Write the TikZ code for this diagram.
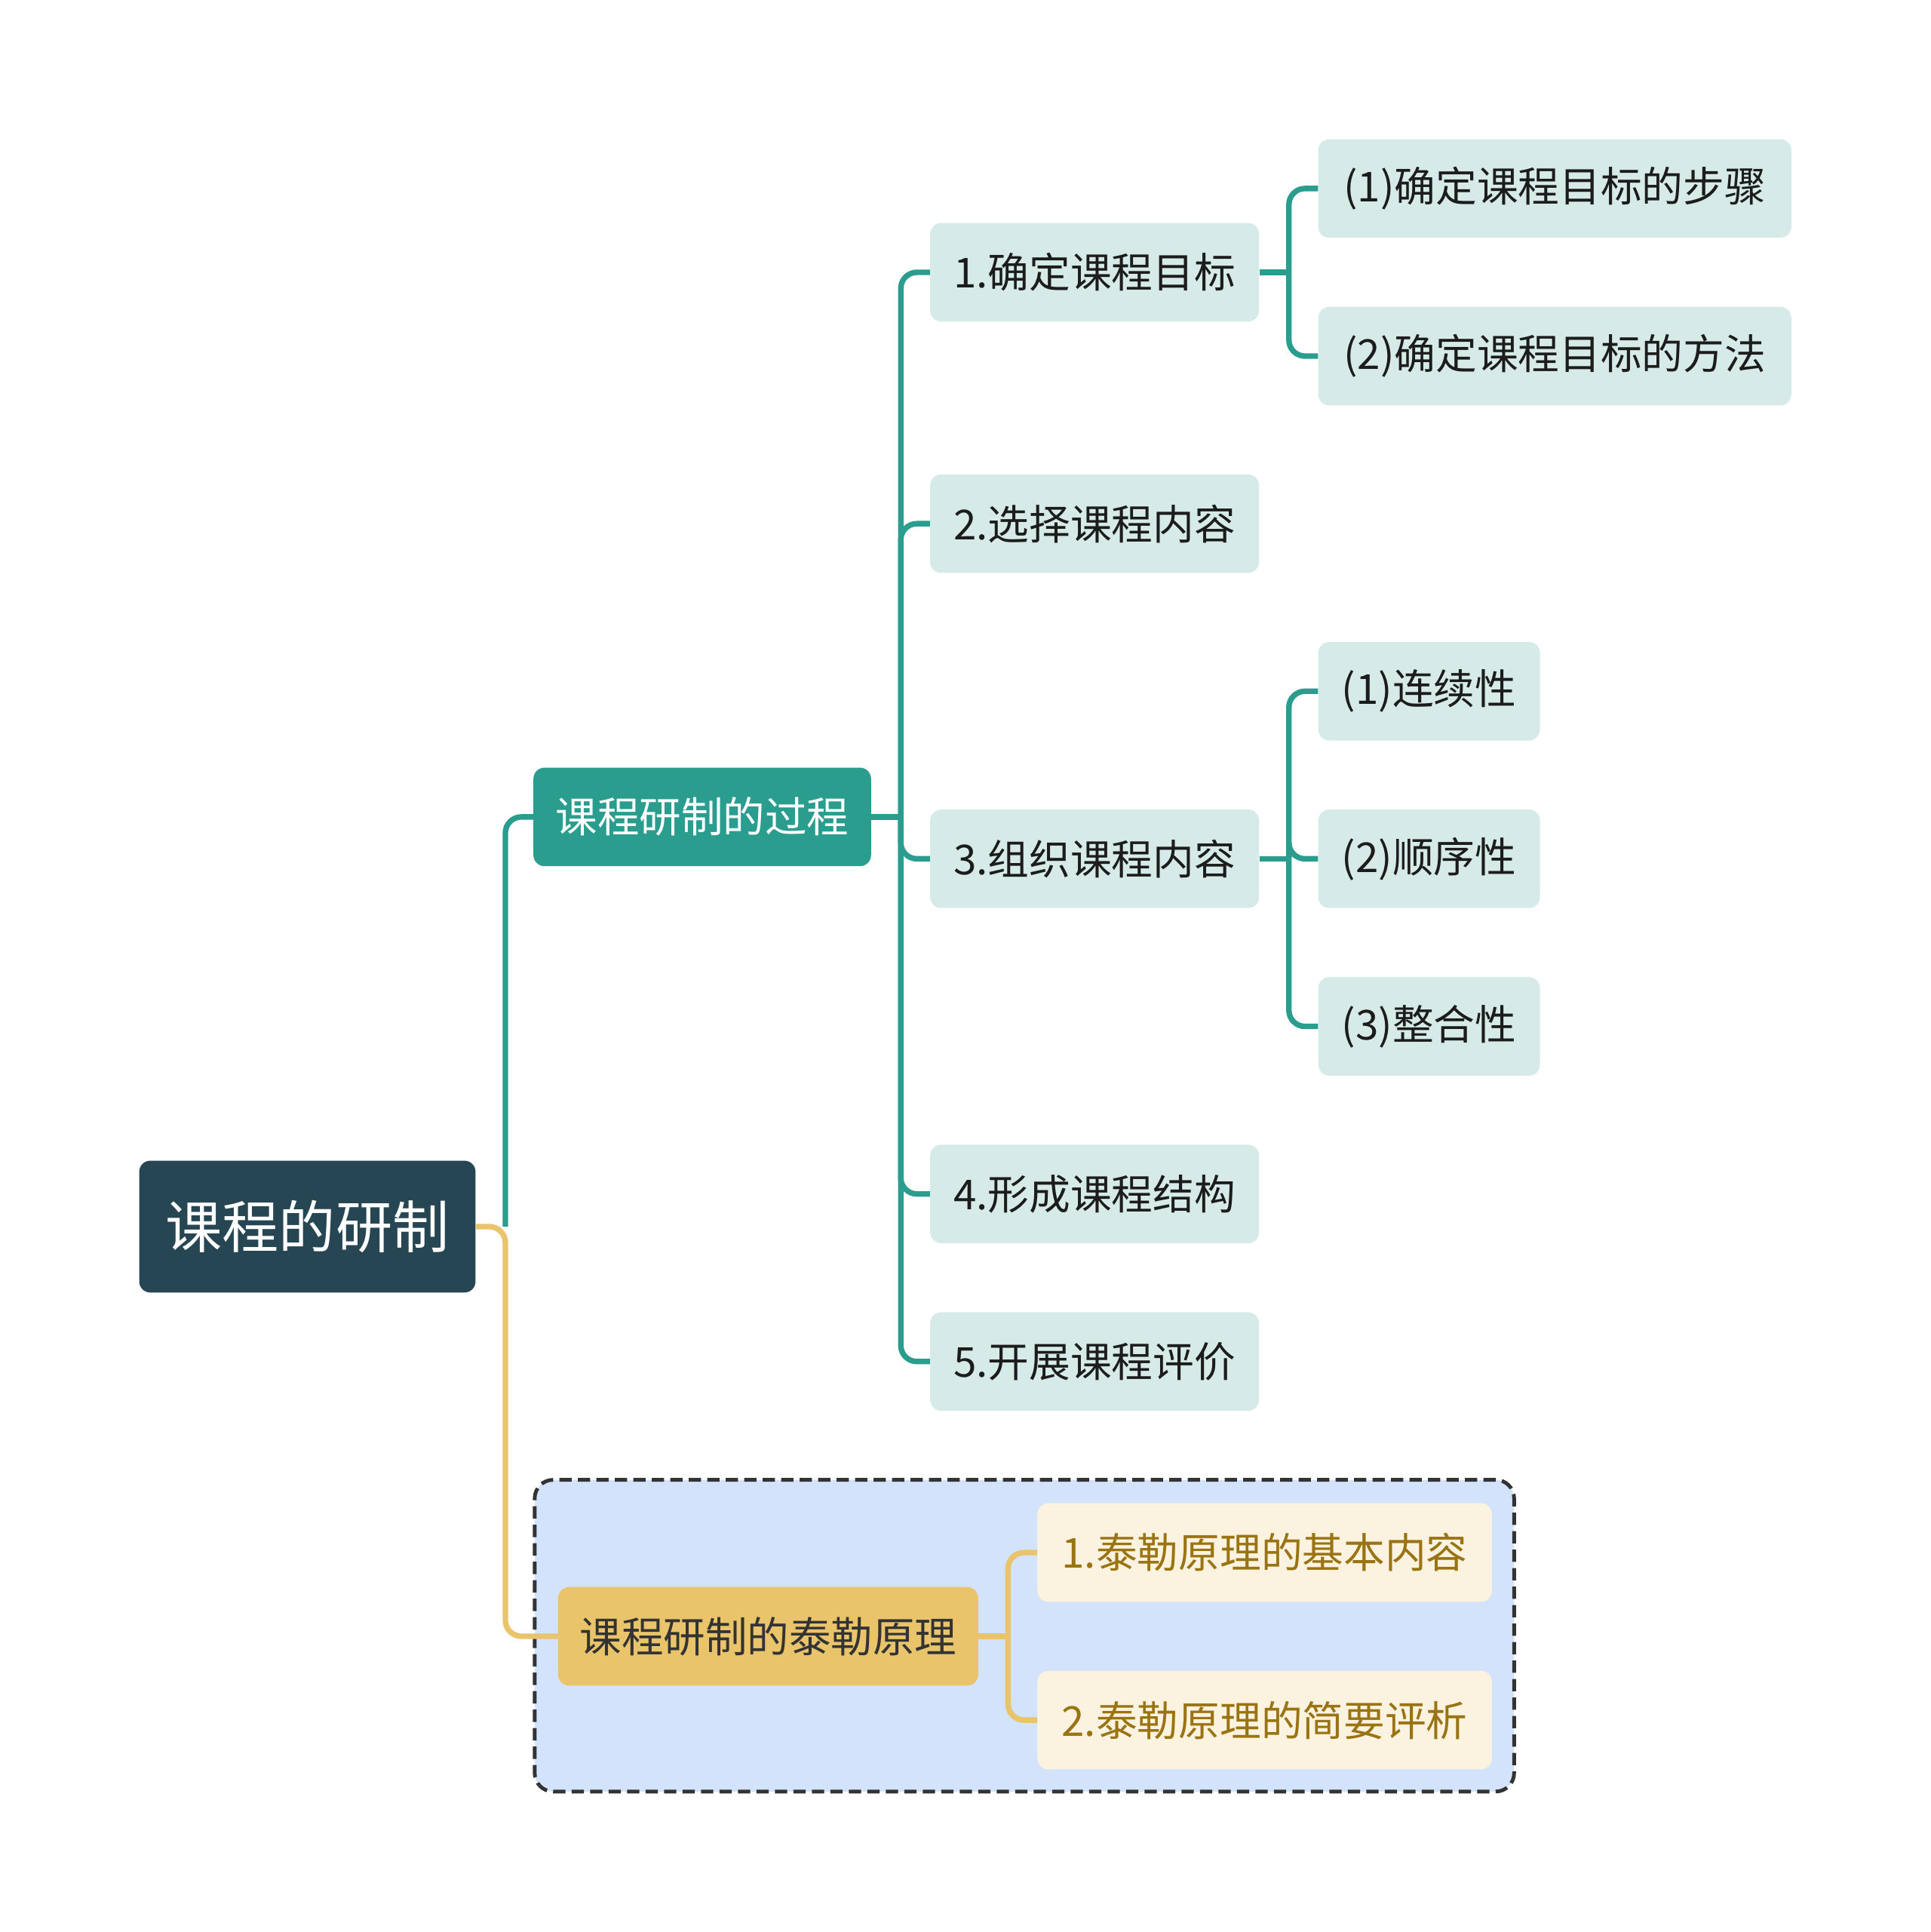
\documentclass[tikz,border=0pt]{standalone}
\usepackage{fontspec}
\setmainfont{Noto Sans CJK SC}
\usepackage{tikz}
\usetikzlibrary{positioning,backgrounds}
\definecolor{rootcol}{HTML}{264653}
\definecolor{tealcol}{HTML}{2A9D8F}
\definecolor{lightteal}{HTML}{D6EBE8}
\definecolor{goldcol}{HTML}{E9C46A}
\definecolor{creamcol}{HTML}{FBF3E0}
\definecolor{goldtext}{HTML}{9A7312}
\definecolor{boxcol}{HTML}{D4E3FC}
\definecolor{darktext}{HTML}{1C1C1C}

\begin{document}
\begin{tikzpicture}[x=1pt, y=-1pt,
    % --- node styles ---
    rootbox/.style={
      rectangle, rounded corners=9pt, fill=rootcol, text=white,
      minimum width=273pt, minimum height=107pt,
      font=\fontsize{46}{54}\selectfont},
    mainbox/.style={
      rectangle, rounded corners=9pt, fill=tealcol, text=white,
      minimum width=274pt, minimum height=80pt,
      font=\fontsize{34}{40}\selectfont},
    subbox/.style={
      rectangle, rounded corners=9pt, fill=lightteal, text=darktext,
      minimum width=267pt, minimum height=80pt,
      font=\fontsize{33.5}{40}\selectfont},
    leafbox/.style={subbox, minimum width=384pt},
    shortleaf/.style={subbox, minimum width=180pt},
    taylorbox/.style={
      rectangle, rounded corners=9pt, fill=goldcol, text=darktext!90,
      minimum width=341pt, minimum height=80pt,
      font=\fontsize{34}{40}\selectfont},
    tleafbox/.style={
      rectangle, rounded corners=9pt, fill=creamcol, text=goldtext,
      minimum width=369pt, minimum height=80pt,
      font=\fontsize{33.5}{40}\selectfont},
    tealline/.style={draw=tealcol, line width=4.5pt, rounded corners=13pt},
    goldline/.style={draw=goldcol, line width=4.5pt, rounded corners=13pt},
  ]
  \useasboundingbox (0,0) rectangle (1567,1568);

  % ============== ROOT ==============
  \node[rootbox] (root) at (249.5,995.5) {课程的研制};

  % ============== PROCESS BRANCH ==============
  \node[mainbox] (process) at (570,663) {课程研制的过程};

  \node[subbox] (goal)      at (888.5,221)  {1.确定课程目标};
  \node[subbox] (select)    at (888.5,425)  {2.选择课程内容};
  \node[subbox] (organize)  at (888.5,697)  {3.组织课程内容};
  \node[subbox] (structure) at (888.5,969)  {4.形成课程结构};
  \node[subbox] (evaluate)  at (888.5,1105) {5.开展课程评价};

  \node[leafbox] (steps)  at (1262,153) {(1)确定课程目标的步骤};
  \node[leafbox] (method) at (1262,289) {(2)确定课程目标的方法};

  \node[shortleaf] (contin) at (1160,561) {(1)连续性};
  \node[shortleaf] (seq)    at (1160,697) {(2)顺序性};
  \node[shortleaf] (integ)  at (1160,833) {(3)整合性};

  % ============== TYLER BRANCH ==============
  \node[taylorbox] (tyler) at (623.5,1328) {课程研制的泰勒原理};
  \node[tleafbox] (basic)  at (1026.5,1260) {1.泰勒原理的基本内容};
  \node[tleafbox] (review) at (1026.5,1396) {2.泰勒原理的简要评析};

  \begin{scope}[on background layer]
    \node[draw=black!80, fill=boxcol, line width=3pt, rounded corners=15pt,
          dash pattern=on 10pt off 5pt, minimum width=795pt, minimum height=253pt]
          (tylerframe) at (831.5,1327.5) {};
  \end{scope}

  % ============== CONNECTORS ==============
  \coordinate (rj) at ([xshift=24pt]root.east);
  \coordinate (pj) at ([xshift=24pt]process.east);
  \coordinate (gj) at ([xshift=24pt]goal.east);
  \coordinate (oj) at ([xshift=24pt]organize.east);
  \coordinate (tj) at ([xshift=24pt]tyler.east);

  \draw[tealline] (rj) |- (process.west);
  \draw[goldline] (root.east) -- (rj) |- (tyler.west);

  \draw[tealline] (process.east) -- (pj);
  \foreach \n in {goal,select,organize,structure,evaluate}
    \draw[tealline] (pj) |- (\n.west);

  \draw[tealline] (goal.east) -- (gj);
  \draw[tealline] (gj) |- (steps.west);
  \draw[tealline] (gj) |- (method.west);

  \draw[tealline] (organize.east) -- (oj);
  \foreach \n in {contin,seq,integ}
    \draw[tealline] (oj) |- (\n.west);

  \draw[goldline] (tyler.east) -- (tj);
  \draw[goldline] (tj) |- (basic.west);
  \draw[goldline] (tj) |- (review.west);

\end{tikzpicture}
\end{document}
